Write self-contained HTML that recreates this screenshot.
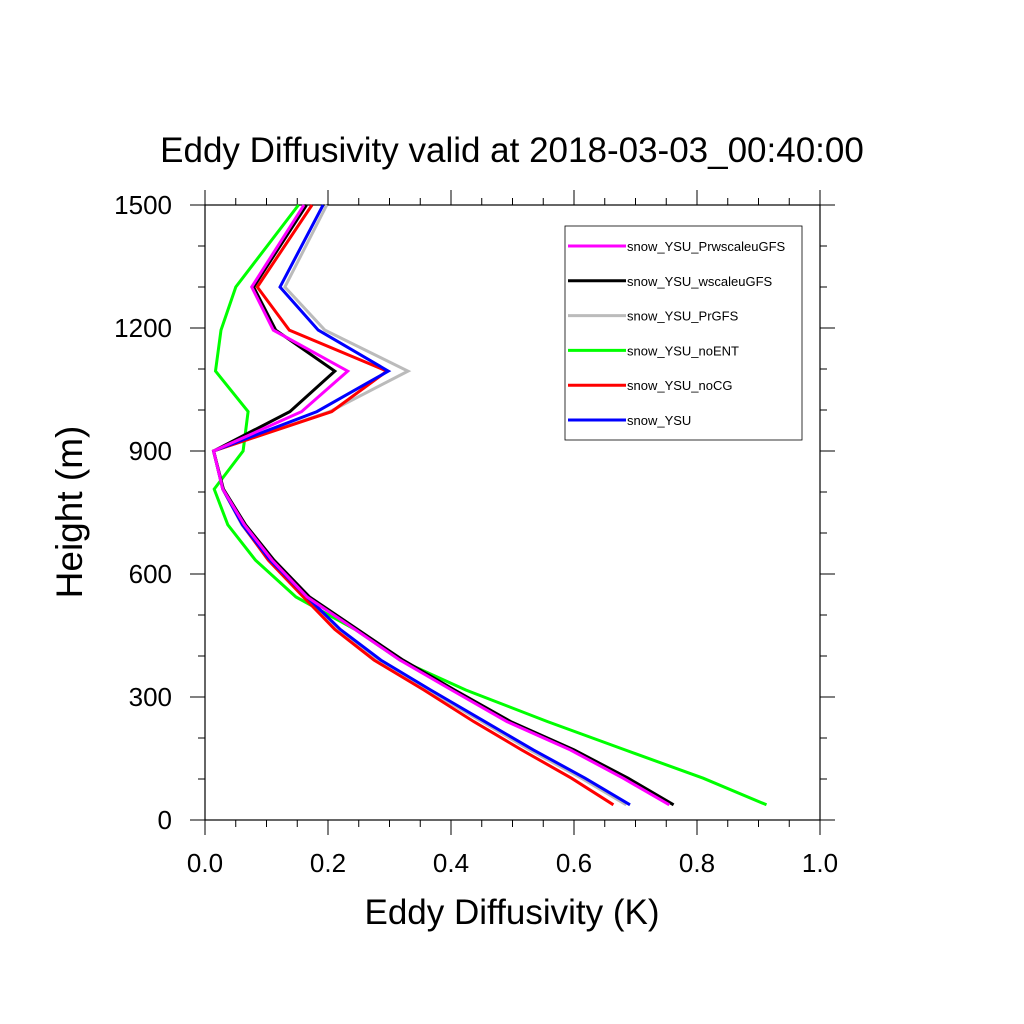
<!DOCTYPE html>
<html><head><meta charset="utf-8"><style>
body{margin:0;background:#fff}
svg{display:block;font-family:"Liberation Sans",sans-serif}
</style></head><body>
<svg id="chart" width="1024" height="1024" viewBox="0 0 1024 1024">
<rect width="1024" height="1024" fill="#fff"/>
<text x="512" y="162" font-size="35" text-anchor="middle">Eddy Diffusivity valid at 2018-03-03_00:40:00</text>
<g id="axes"></g>
<g id="series"></g>
<text x="512" y="924" font-size="35" text-anchor="middle">Eddy Diffusivity (K)</text>
<text transform="translate(82,512) rotate(-90)" font-size="37" text-anchor="middle">Height (m)</text>
<g id="legend"></g>
</svg>
<script>
const heights=[37,102,171,240,317,390,465,544,634,720,807,900,996,1095,1195,1300,1500];
const sPrw=[0.755,0.680,0.594,0.491,0.401,0.317,0.244,0.166,0.109,0.064,0.029,0.014,0.157,0.232,0.111,0.076,0.161];
const sWsc=[0.762,0.688,0.600,0.497,0.406,0.322,0.248,0.170,0.112,0.066,0.030,0.014,0.138,0.211,0.115,0.079,0.165];
const sPr=[0.685,0.612,0.528,0.450,0.362,0.281,0.216,0.163,0.104,0.060,0.029,0.014,0.203,0.330,0.195,0.130,0.198];
const sNoEnt=[0.913,0.810,0.683,0.557,0.424,0.317,0.244,0.148,0.082,0.037,0.015,0.062,0.070,0.017,0.026,0.050,0.152];
const sNoCG=[0.664,0.596,0.515,0.437,0.356,0.275,0.211,0.160,0.103,0.061,0.029,0.014,0.206,0.296,0.137,0.085,0.174];
const sYSU=[0.691,0.618,0.534,0.455,0.367,0.286,0.220,0.166,0.106,0.061,0.029,0.014,0.182,0.298,0.184,0.122,0.192];
const xTicks=[0,0.2,0.4,0.6,0.8,1.0];
const xTickLabels=["0.0","0.2","0.4","0.6","0.8","1.0"];
const yTicks=[0,300,600,900,1200,1500];
const seriesNames=["snow_YSU_PrwscaleuGFS","snow_YSU_wscaleuGFS","snow_YSU_PrGFS","snow_YSU_noENT","snow_YSU_noCG","snow_YSU"];
const seriesColors=["#ff00ff","#000000","#bbbbbb","#00ff00","#ff0000","#0000ff"];
const allSeries=[sPrw,sWsc,sPr,sNoEnt,sNoCG,sYSU];
const drawOrder=[2,3,4,5,1,0];
const L=205,R=820,T=205,B=820;
const X=v=>L+v*(R-L)/1.0;
const Y=h=>B-h*(B-T)/1500;
const NS="http://www.w3.org/2000/svg";
function mk(tag,parent,attrs){const e=document.createElementNS(NS,tag);for(const k in attrs)e.setAttribute(k,attrs[k]);parent.appendChild(e);return e;}
const ax=document.getElementById('axes');
const frame=mk('rect',ax,{x:L,y:T,width:R-L,height:B-T,fill:'none',stroke:'#000','stroke-width':1.2});


for(let v=0;v<=1.0001;v+=0.05){const x=X(v);const major=Math.abs(v*5-Math.round(v*5))<1e-6;const len=major?15:7;
 const t1=mk('line',ax,{x1:x,y1:B,x2:x,y2:B+len,stroke:'#000','stroke-width':1});
 
 
 const t2=mk('line',ax,{x1:x,y1:T,x2:x,y2:T-len,stroke:'#000','stroke-width':1});
 
 }
for(let h=0;h<=1500;h+=100){const y=Y(h);const major=h%300===0;const len=major?15:7;
 const t1=mk('line',ax,{x1:L,y1:y,x2:L-len,y2:y,stroke:'#000','stroke-width':1});
 
 
 const t2=mk('line',ax,{x1:R,y1:y,x2:R+len,y2:y,stroke:'#000','stroke-width':1});
 
 }
xTicks.forEach((v,i)=>{const t=mk('text',ax,{x:X(v),y:B+52,'font-size':26,'text-anchor':'middle'});t.textContent=xTickLabels[i];
 
 });
yTicks.forEach(h=>{const t=mk('text',ax,{x:172,y:Y(h)+9,'font-size':26,'text-anchor':'end'});t.textContent=String(h);
 
 });
const sg=document.getElementById('series');
drawOrder.forEach(i=>{const s=allSeries[i];const pts=s.map((v,j)=>X(v).toFixed(1)+','+Y(heights[j]).toFixed(1)).join(' ');
 const p=mk('polyline',sg,{points:pts,fill:'none',stroke:seriesColors[i],'stroke-width':3,'stroke-linejoin':'miter'});
 
 });
const lg=document.getElementById('legend');
const box=mk('rect',lg,{x:565,y:226,width:237,height:214,fill:'#fff',stroke:'#000','stroke-width':0.8});


seriesNames.forEach((n,i)=>{const y=246+i*34.8;
 const l=mk('line',lg,{x1:568,y1:y,x2:626,y2:y,stroke:seriesColors[i],'stroke-width':3});
 
 
 const t=mk('text',lg,{x:627,y:y+5,'font-size':13});t.textContent=n;
 
 });
</script>
</body></html>
